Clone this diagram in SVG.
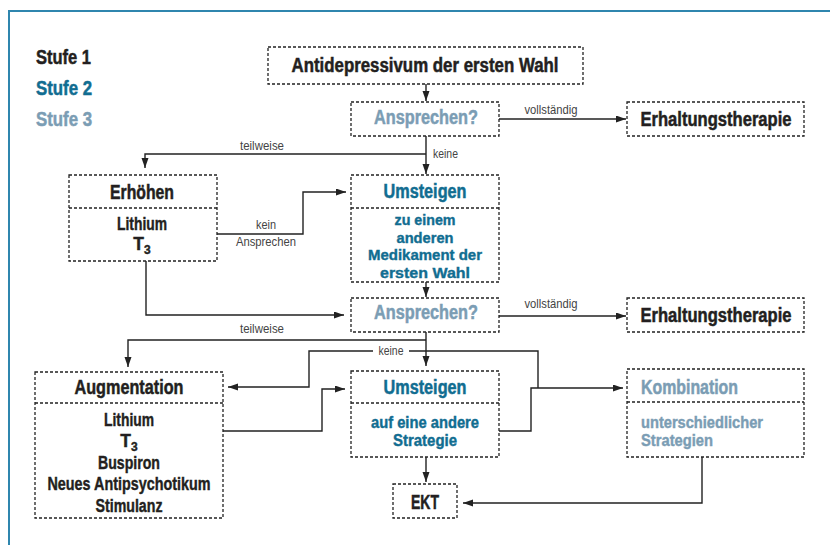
<svg xmlns="http://www.w3.org/2000/svg" width="830" height="545" viewBox="0 0 830 545">
<style>
.box{fill:none;stroke:#222;stroke-width:1.3;stroke-dasharray:3 2}
.div{stroke:#222;stroke-width:1.3;stroke-dasharray:3 2}
text{font-family:"Liberation Sans",Arial,sans-serif;text-anchor:middle}
.t{font-weight:bold;font-size:20px;stroke-width:0.5}
.b{font-weight:bold;font-size:17.5px;stroke-width:0.4}
.bs{font-size:15.5px}
.bm{font-size:15.8px}
.l{font-size:13.5px;fill:#444}
.st{text-anchor:start}
.k{fill:#231f20;stroke:#231f20}.s2{fill:#116d91;stroke:#116d91}.s3{fill:#7b9db4;stroke:#7b9db4}
.c{fill:none;stroke:#222;stroke-width:1.4}
.ca{fill:none;stroke:#222;stroke-width:1.4;marker-end:url(#ah)}
</style>
<defs>
<marker id="ah" markerUnits="userSpaceOnUse" markerWidth="11" markerHeight="8" refX="10" refY="3.5" orient="auto"><path d="M0,0 L10,3.5 L0,7 z" fill="#222"/></marker>
</defs>
<rect width="830" height="545" fill="#fff"/>
<path d="M9,545 V11 H830" fill="none" stroke="#2f86ae" stroke-width="2"/>
<g id="legend">
<text class="t k st" x="36" y="64" textLength="55" lengthAdjust="spacingAndGlyphs">Stufe 1</text>
<text class="t s2 st" x="36" y="95" textLength="56" lengthAdjust="spacingAndGlyphs">Stufe 2</text>
<text class="t s3 st" x="36" y="126" textLength="56" lengthAdjust="spacingAndGlyphs">Stufe 3</text>
</g>
<g id="connectors">
<path class="ca" d="M426,84 V101"/>
<path class="ca" d="M499,119 H626"/>
<path class="ca" d="M426,136 V174"/>
<path class="ca" d="M426,154 H145 V168"/>
<path class="ca" d="M217,234 H303 V192 H346"/>
<path class="ca" d="M146,261 V315 H344"/>
<path class="ca" d="M426,282 V297"/>
<path class="ca" d="M499,316 H626"/>
<path class="ca" d="M426,332 V366"/>
<path class="ca" d="M426,340 H128 V367"/>
<path class="ca" d="M373,351 H309 V387 H228"/>
<path class="c" d="M409,351 H538 V388"/>
<path class="ca" d="M499,431 H531 V388 H623"/>
<path class="ca" d="M223,431 H322 V389 H345"/>
<path class="ca" d="M426,457 V482"/>
<path class="ca" d="M702,457 V503 H463"/>
<text class="l" x="551" y="114" textLength="53" lengthAdjust="spacingAndGlyphs">vollständig</text>
<text class="l st" x="433" y="158" textLength="25" lengthAdjust="spacingAndGlyphs">keine</text>
<text class="l" x="262" y="150" textLength="44" lengthAdjust="spacingAndGlyphs">teilweise</text>
<text class="l" x="266" y="229" textLength="20" lengthAdjust="spacingAndGlyphs">kein</text>
<text class="l" x="266" y="246" textLength="60" lengthAdjust="spacingAndGlyphs">Ansprechen</text>
<text class="l" x="551" y="308" textLength="53" lengthAdjust="spacingAndGlyphs">vollständig</text>
<text class="l" x="262" y="333" textLength="44" lengthAdjust="spacingAndGlyphs">teilweise</text>
<text class="l" x="391" y="355" textLength="25" lengthAdjust="spacingAndGlyphs">keine</text>
</g>
<g id="n-antidepressivum">
<rect class="box" x="268" y="47" width="315" height="37"/>
<text class="t k" x="425" y="72" textLength="267" lengthAdjust="spacingAndGlyphs">Antidepressivum der ersten Wahl</text>
</g>
<g id="n-ansprechen1">
<rect class="box" x="351" y="102" width="148" height="34"/>
<text class="t s3" x="426" y="124" textLength="104" lengthAdjust="spacingAndGlyphs">Ansprechen?</text>
</g>
<g id="n-erhaltung1">
<rect class="box" x="627" y="102" width="177" height="34"/>
<text class="t k" x="716" y="126" textLength="151" lengthAdjust="spacingAndGlyphs">Erhaltungstherapie</text>
</g>
<g id="n-erhoehen">
<rect class="box" x="69" y="175" width="148" height="86"/>
<line class="div" x1="69" y1="208" x2="217" y2="208"/>
<text class="t k" x="142" y="199" textLength="64" lengthAdjust="spacingAndGlyphs">Erhöhen</text>
<text class="b k" x="142" y="230" textLength="50" lengthAdjust="spacingAndGlyphs">Lithium</text>
<text class="b k" x="142" y="250">T<tspan font-size="12" dy="4">3</tspan></text>
</g>
<g id="n-umsteigen1">
<rect class="box" x="351" y="175" width="148" height="107"/>
<line class="div" x1="351" y1="208" x2="499" y2="208"/>
<text class="t s2" x="425" y="198" textLength="83" lengthAdjust="spacingAndGlyphs">Umsteigen</text>
<text class="b bs s2" x="425" y="225" textLength="61" lengthAdjust="spacingAndGlyphs">zu einem</text>
<text class="b bs s2" x="425" y="242.5" textLength="57" lengthAdjust="spacingAndGlyphs">anderen</text>
<text class="b bs s2" x="425" y="260" textLength="114" lengthAdjust="spacingAndGlyphs">Medikament der</text>
<text class="b bs s2" x="425" y="277.5" textLength="90" lengthAdjust="spacingAndGlyphs">ersten Wahl</text>
</g>
<g id="n-ansprechen2">
<rect class="box" x="351" y="298" width="148" height="34"/>
<text class="t s3" x="426" y="319" textLength="104" lengthAdjust="spacingAndGlyphs">Ansprechen?</text>
</g>
<g id="n-erhaltung2">
<rect class="box" x="627" y="298" width="177" height="34"/>
<text class="t k" x="716" y="322" textLength="151" lengthAdjust="spacingAndGlyphs">Erhaltungstherapie</text>
</g>
<g id="n-augmentation">
<rect class="box" x="35" y="372" width="188" height="146"/>
<line class="div" x1="35" y1="403" x2="223" y2="403"/>
<text class="t k" x="129" y="394" textLength="109" lengthAdjust="spacingAndGlyphs">Augmentation</text>
<text class="b k" x="129" y="425.5" textLength="50" lengthAdjust="spacingAndGlyphs">Lithium</text>
<text class="b k" x="129" y="447">T<tspan font-size="12" dy="4">3</tspan></text>
<text class="b k" x="129" y="468.5" textLength="62" lengthAdjust="spacingAndGlyphs">Buspiron</text>
<text class="b k" x="129" y="490" textLength="163" lengthAdjust="spacingAndGlyphs">Neues Antipsychotikum</text>
<text class="b k" x="129" y="511.5" textLength="67" lengthAdjust="spacingAndGlyphs">Stimulanz</text>
</g>
<g id="n-umsteigen2">
<rect class="box" x="351" y="371" width="148" height="86"/>
<line class="div" x1="351" y1="403" x2="499" y2="403"/>
<text class="t s2" x="425" y="394" textLength="83" lengthAdjust="spacingAndGlyphs">Umsteigen</text>
<text class="b bm s2" x="425" y="428" textLength="108" lengthAdjust="spacingAndGlyphs">auf eine andere</text>
<text class="b bm s2" x="425" y="446" textLength="64" lengthAdjust="spacingAndGlyphs">Strategie</text>
</g>
<g id="n-ekt">
<rect class="box" x="393" y="484" width="64" height="34"/>
<text class="t k" x="425" y="509" textLength="28" lengthAdjust="spacingAndGlyphs">EKT</text>
</g>
<g id="n-kombination">
<rect class="box" x="627" y="369" width="177" height="88"/>
<line class="div" x1="627" y1="402" x2="804" y2="402"/>
<text class="t s3 st" x="641" y="394" textLength="97" lengthAdjust="spacingAndGlyphs">Kombination</text>
<text class="b bm s3 st" x="641" y="428" textLength="122" lengthAdjust="spacingAndGlyphs">unterschiedlicher</text>
<text class="b bm s3 st" x="641" y="446" textLength="72" lengthAdjust="spacingAndGlyphs">Strategien</text>
</g>
</svg>
